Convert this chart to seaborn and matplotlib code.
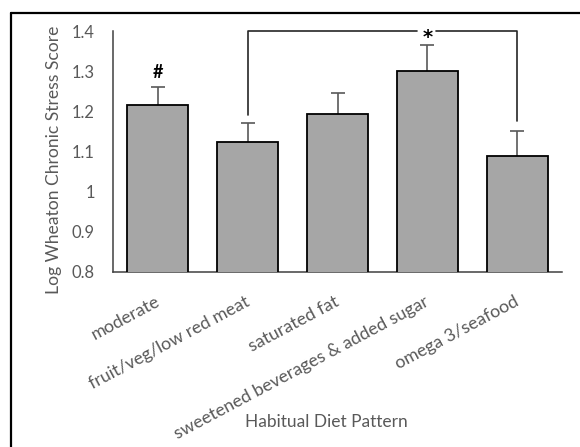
import matplotlib
matplotlib.use("Agg")
import matplotlib.pyplot as plt
from matplotlib.lines import Line2D
from matplotlib.transforms import ScaledTranslation
import seaborn as sns
import pandas as pd

# Diet pattern groups and their mean log chronic stress scores (with SE)
patterns = ["moderate", "fruit/veg/low red meat", "saturated fat",
            "sweetened beverages & added sugar", "omega 3/seafood"]
means = [1.217, 1.124, 1.193, 1.300, 1.090]
errors = [0.044, 0.048, 0.052, 0.066, 0.060]
y_ticks = [0.8, 0.9, 1.0, 1.1, 1.2, 1.3, 1.4]
y_tick_labels = ["0.8", "0.9", "1", "1.1", "1.2", "1.3", "1.4"]
y_title = "Log Wheaton Chronic Stress Score"
x_title = "Habitual Diet Pattern"

sns.set_theme(style="white")
plt.rcParams["font.family"] = ["Lato", "DejaVu Sans"]

TEXT = "#595959"
DPI = 100
W, H = 580, 447

fig = plt.figure(figsize=(W / DPI, H / DPI), dpi=DPI)
renderer = fig.canvas.get_renderer()


def size_for_width(s, width_px, base=12.0):
    """Font size at which string s spans width_px pixels."""
    t = fig.text(0, 0, s, fontsize=base)
    w = t.get_window_extent(renderer).width
    t.remove()
    return base * width_px / w


fs_ytick = size_for_width("1.4", 23)
fs_xtick = 0.5 * (size_for_width(patterns[3], 282) + size_for_width(patterns[0], 76))
fs_ylab = size_for_width(y_title, 267)
fs_xlab = size_for_width(x_title, 162)

ax = fig.add_axes([113 / W, 1 - 272 / H, (562 - 113) / W, (272 - 31) / H])

df = pd.DataFrame({"pattern": patterns, "score": means})
sns.barplot(data=df, x="pattern", y="score", order=patterns, color="#a6a6a6",
            saturation=1, width=0.68, edgecolor="black", linewidth=1.3,
            errorbar=None, ax=ax, zorder=3)

# error bars sit behind the bars so only the upper half shows
ax.errorbar(range(len(patterns)), means, yerr=errors, fmt="none",
            ecolor="#595959", elinewidth=1.2, capsize=5, capthick=1.2, zorder=2)

ax.set_ylim(0.8, 1.4)
ax.set_xlim(-0.5, len(patterns) - 0.5)
ax.set_yticks(y_ticks, labels=y_tick_labels)
ax.tick_params(axis="y", length=0, pad=13, labelsize=fs_ytick, labelcolor=TEXT)
ax.tick_params(axis="x", length=0, pad=0)

ax.set_xticks(range(len(patterns)))
ax.set_xticklabels(patterns, rotation=28, ha="right", va="baseline",
                   rotation_mode="anchor", fontsize=fs_xtick, color=TEXT)
shift = ScaledTranslation(3 / DPI, -33 / DPI, fig.dpi_scale_trans)
for lab in ax.get_xticklabels():
    lab.set_transform(lab.get_transform() + shift)

for side in ["top", "right"]:
    ax.spines[side].set_visible(False)
for side in ["left", "bottom"]:
    ax.spines[side].set_color("#404040")
    ax.spines[side].set_linewidth(1.1)

ax.set_xlabel("")
ax.set_ylabel(y_title, fontsize=fs_ylab, color=TEXT)
ax.yaxis.label.set_verticalalignment("center")
ax.yaxis.set_label_coords((54 - 113) / (562 - 113), (272 - 159.5) / (272 - 31))

# significance bracket between fruit/veg and omega 3 groups
bk = dict(color="#262626", linewidth=1.2, clip_on=False, zorder=4)
ax.plot([1, 1, 2.88], [1.19, 1.4, 1.4], **bk)
ax.plot([3.10, 4, 4], [1.4, 1.4, 1.175], **bk)
ax.text(3.0, 1.384, "*", ha="center", va="center", fontsize=14,
        fontweight="bold", color="black", family="DejaVu Sans")
ax.text(0, 1.297, "#", ha="center", va="center", fontsize=13,
        fontweight="bold", color="black")

fig.text(326 / W, 1 - 422 / H, x_title, ha="center", va="center",
         fontsize=fs_xlab, color=TEXT)

# outer frame edges
fig.add_artist(Line2D([11 / W, 11 / W], [0, 1 - 13 / H], color="black",
                      linewidth=1.6, transform=fig.transFigure))
fig.add_artist(Line2D([11 / W, 1], [1 - 13 / H, 1 - 13 / H], color="black",
                      linewidth=1.6, transform=fig.transFigure))

fig.savefig("out.png", dpi=DPI, facecolor="white")
